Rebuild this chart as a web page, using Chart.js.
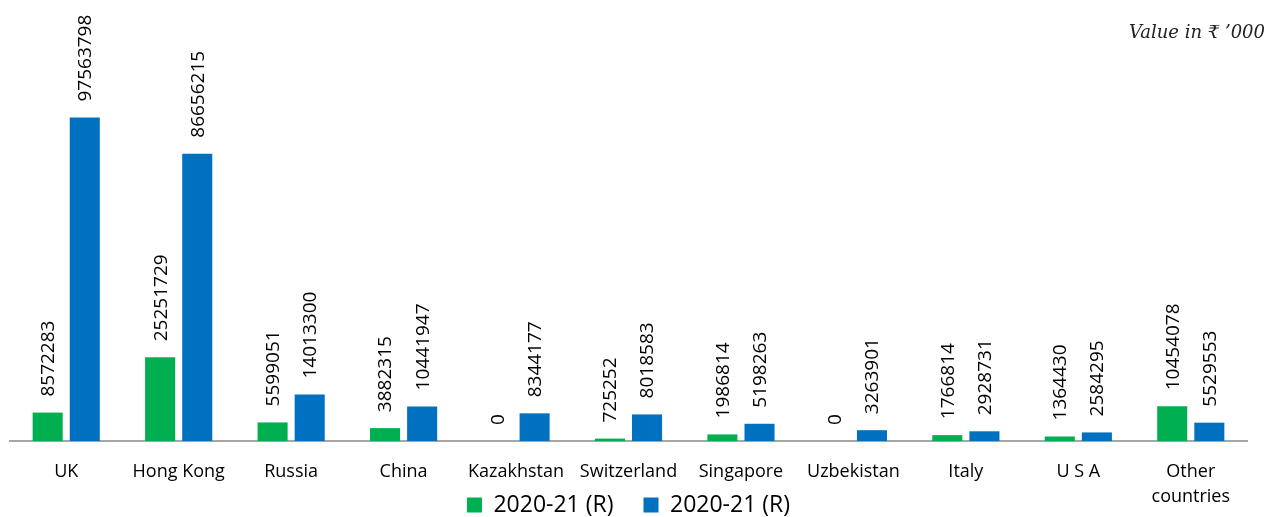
<!DOCTYPE html>
<html>
<head>
<meta charset="utf-8">
<script src="https://cdn.jsdelivr.net/npm/chart.js@4"></script>
<style>
  body { margin: 0; background: #fff; }
  #wrap { position: relative; width: 1269px; height: 517px; }
  #unit {
    position: absolute; right: 4px; top: 21px;
    font-family: "DejaVu Serif", "Liberation Serif", serif;
    font-style: italic; font-size: 18px; color: #222;
  }
</style>
</head>
<body>
<div id="wrap">
  <canvas id="chart"></canvas>
  <div id="unit">Value in ₹ ’000</div>
</div>
<script>
const countries = ['UK', 'Hong Kong', 'Russia', 'China', 'Kazakhstan', 'Switzerland', 'Singapore', 'Uzbekistan', 'Italy', 'U S A', ['Other', 'countries']];
const greenValues = [8572283, 25251729, 5599051, 3882315, 0, 725252, 1986814, 0, 1766814, 1364430, 10454078]; // 2020-21 (R)
const blueValues = [97563798, 86656215, 14013300, 10441947, 8344177, 8018583, 5198263, 3263901, 2928731, 2584295, 5529553]; // 2020-21 (R)

const FONT = "'Open Sans', sans-serif";
const AXIS_Y = 441;     // where the category axis sits
const LEGEND_Y = 505;   // middle of the legend row
const LEGEND_PAD = 30;
const LEGEND_SIZE = 23;

// draws the rotated numbers above each bar
const valueLabels = {
    id: 'valueLabels',
    afterDatasetsDraw(chart) {
        const ctx = chart.ctx;
        chart.data.datasets.forEach((ds, i) => {
            chart.getDatasetMeta(i).data.forEach((bar, j) => {
                ctx.save();
                ctx.translate(bar.x + 1, bar.y - 16);
                ctx.rotate(-Math.PI / 2);
                ctx.font = '19px ' + FONT;
                ctx.fillStyle = '#000';
                ctx.textAlign = 'left';
                ctx.textBaseline = 'middle';
                ctx.fillText(String(ds.data[j]), 0, 0);
                ctx.restore();
            });
        });
    }
};

// the tick labels and the legend share the same band at the bottom
const squeezeBottom = {
    id: 'squeezeBottom',
    afterLayout(chart) {
        chart.scales.x.bottom = chart.height; // don't clip the tick labels
        const lg = chart.legend;
        const top = LEGEND_Y - LEGEND_PAD - LEGEND_SIZE / 2;
        lg.bottom = top + lg.height;
        lg.top = top;
    }
};

new Chart(document.getElementById('chart'), {
    type: 'bar',
    data: {
        labels: countries,
        datasets: [
            {
                label: '2020-21 (R)',
                data: greenValues,
                backgroundColor: '#00B050',
                categoryPercentage: 0.66,
                barPercentage: 0.81
            },
            {
                label: '2020-21 (R)',
                data: blueValues,
                backgroundColor: '#0070C0',
                categoryPercentage: 0.66,
                barPercentage: 0.81
            }
        ]
    },
    options: {
        responsive: true,
        maintainAspectRatio: false,
        animation: false,
        layout: { padding: { top: 20, left: 10, right: 22, bottom: 0 } },
        plugins: {
            tooltip: { enabled: false },
            legend: {
                position: 'bottom',
                labels: {
                    color: '#000',
                    font: { family: FONT, size: LEGEND_SIZE },
                    boxWidth: 15,
                    boxHeight: 15,
                    padding: LEGEND_PAD
                }
            }
        },
        scales: {
            x: {
                grid: { display: false },
                border: { color: '#A6A6A6', width: 2 },
                ticks: {
                    color: '#000',
                    font: { family: FONT, size: 18, lineHeight: 1.35 },
                    padding: 11,
                    maxRotation: 0,
                    autoSkip: false
                },
                afterFit(scale) {
                    const c = scale.chart;
                    scale.height = c.height - AXIS_Y - c.legend.height;
                }
            },
            y: {
                display: false,
                min: 0,
                max: 127000000
            }
        }
    },
    plugins: [valueLabels, squeezeBottom]
});
</script>
</body>
</html>
